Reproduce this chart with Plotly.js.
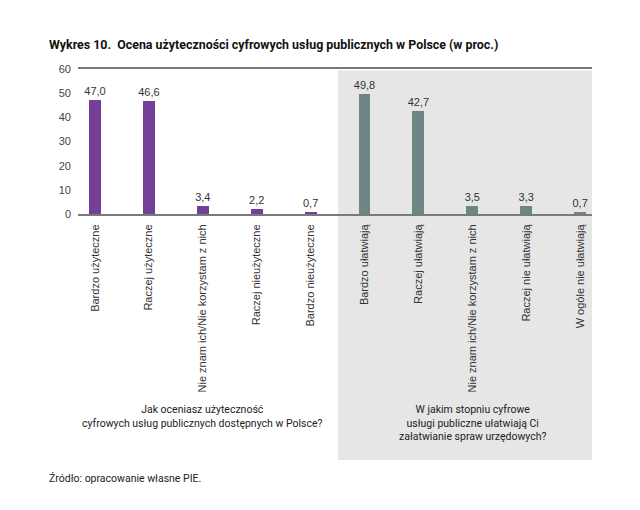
<!DOCTYPE html>
<html>
<head>
<meta charset="utf-8">
<script src="https://cdn.plot.ly/plotly-3.0.1.min.js"></script>
<style>html,body{margin:0;padding:0;background:#fff;}#chart{width:640px;height:510px;}</style>
</head>
<body>
<div id="chart"></div>
<script>
const categoriesA = ["Bardzo użyteczne", "Raczej użyteczne", "Nie znam ich/Nie korzystam z nich", "Raczej nieużyteczne", "Bardzo nieużyteczne"];
const valuesA = [47.0, 46.6, 3.4, 2.2, 0.7];
const categoriesB = ["Bardzo ułatwiają", "Raczej ułatwiają", "Nie znam ich/Nie korzystam z nich", "Raczej nie ułatwiają", "W ogóle nie ułatwiają"];
const valuesB = [49.8, 42.7, 3.5, 3.3, 0.7];
const yTicks = [0, 10, 20, 30, 40, 50, 60];
const groupTitleA = "Jak oceniasz użyteczność<br>cyfrowych usług publicznych dostępnych w Polsce?";
const groupTitleB = "W jakim stopniu cyfrowe<br>usługi publiczne ułatwiają Ci<br>załatwianie spraw urzędowych?";
const chartTitle = "Wykres 10.  Ocena użyteczności cyfrowych usług publicznych w Polsce (w proc.)";
const sourceText = "Źródło: opracowanie własne PIE.";

const allCats = categoriesA.concat(categoriesB);
const posA = categoriesA.map((c, i) => i);
const posB = categoriesB.map((c, i) => i + categoriesA.length);
const allPos = posA.concat(posB);

const textFont = {family: "Liberation Sans, Arial, sans-serif", size: 11, color: "#333"};

const traces = [
  {type: "bar", x: posA, y: valuesA, marker: {color: "#753f98"}, width: 0.22,
   texttemplate: "%{y:.1f}", textposition: "outside", constraintext: "none", textfont: textFont, cliponaxis: false, hoverinfo: "none"},
  {type: "bar", x: posB, y: valuesB, marker: {color: "#6d8684"}, width: 0.22,
   texttemplate: "%{y:.1f}", textposition: "outside", constraintext: "none", textfont: textFont, cliponaxis: false, hoverinfo: "none"}
];

const layout = {
  width: 640, height: 510,
  margin: {l: 78, r: 48, t: 69, b: 296},
  paper_bgcolor: "#fff",
  plot_bgcolor: "rgba(0,0,0,0)",
  separators: ", ",
  showlegend: false,
  bargap: 0,
  xaxis: {
    range: [-0.315, 9.22],
    tickvals: allPos, ticktext: allCats,
    tickangle: -90,
    tickfont: {family: "Liberation Sans, Arial, sans-serif", size: 11, color: "#333"},
    showgrid: false, zeroline: false,
    showline: true, mirror: true, linecolor: "#7a7a7a", linewidth: 2,
    ticks: "", ticklabelstandoff: 4
  },
  yaxis: {
    range: [0, 60],
    tickvals: yTicks,
    tickfont: {family: "Liberation Sans, Arial, sans-serif", size: 11, color: "#444"},
    showgrid: false, zeroline: false, showline: false, ticks: "",
    ticklabelstandoff: 6
  },
  shapes: [
    {type: "rect", layer: "below", xref: "x", yref: "paper",
     x0: 4.51, x1: 9.22, y0: -1.697, y1: 0.99,
     fillcolor: "#e6e6e6", line: {width: 0}}
  ],
  annotations: [
    {xref: "paper", yref: "paper", x: -0.0603, y: 1.172, xanchor: "left", yanchor: "middle",
     text: "<b>" + chartTitle + "</b>", showarrow: false,
     font: {family: "Roboto, sans-serif", size: 12.4, color: "#111"}},
    {xref: "x", yref: "paper", x: 2, y: -1.29, xanchor: "center", yanchor: "top",
     text: groupTitleA, showarrow: false, align: "center",
     font: {family: "Roboto, sans-serif", size: 10.5, color: "#222"}},
    {xref: "x", yref: "paper", x: 7, y: -1.29, xanchor: "center", yanchor: "top",
     text: groupTitleB, showarrow: false, align: "center",
     font: {family: "Roboto, sans-serif", size: 10.5, color: "#222"}},
    {xref: "paper", yref: "paper", x: -0.0603, y: -1.821, xanchor: "left", yanchor: "middle",
     text: sourceText, showarrow: false,
     font: {family: "Roboto, sans-serif", size: 10.5, color: "#222"}}
  ]
};

Plotly.newPlot("chart", traces, layout, {displayModeBar: false, staticPlot: true});
</script>
</body>
</html>
